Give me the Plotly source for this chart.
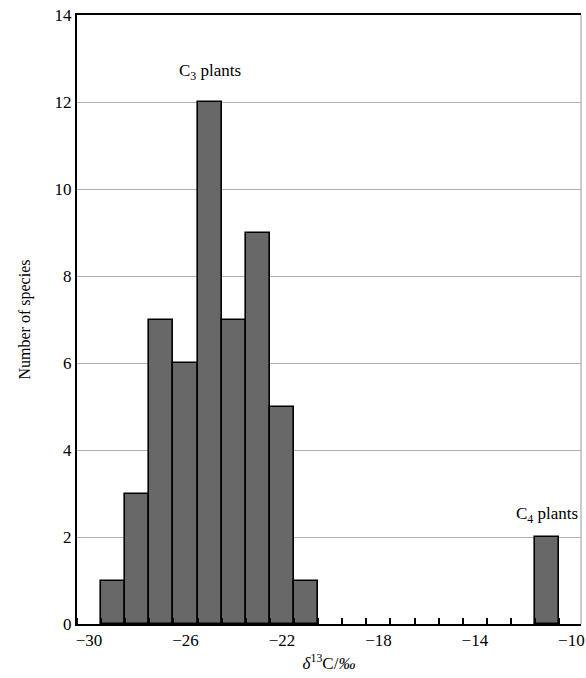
import plotly.graph_objects as go

# data
bin_centers = [-29, -28, -27, -26, -25, -24, -23, -22, -21, -11]
species_counts = [1, 3, 7, 6, 12, 7, 9, 5, 1, 2]
x_tick_vals = [-30, -26, -22, -18, -14, -10]
x_tick_text = ["\u221230", "\u221226", "\u221222", "\u221218", "\u221214", "\u221210"]
y_tick_vals = [0, 2, 4, 6, 8, 10, 12, 14]

FONT = "Liberation Serif, Times New Roman, serif"

fig = go.Figure()
fig.add_trace(go.Bar(
    x=bin_centers, y=species_counts, width=1.0,
    marker=dict(color="#686868", line=dict(color="black", width=1.6)),
    showlegend=False,
))

fig.update_layout(
    width=586, height=678,
    margin=dict(l=77, r=1, t=15, b=54),
    paper_bgcolor="white", plot_bgcolor="white",
    font=dict(family=FONT, size=17, color="black"),
    bargap=0,
    xaxis=dict(
        range=[-30.5, -9.6],
        tickvals=x_tick_vals, ticktext=x_tick_text,
        ticks="", showgrid=False, zeroline=False,
        ticklabeloverflow="allow",
        showline=True, linecolor="black", linewidth=2, mirror=True,
        tickfont=dict(family=FONT, size=17),
        minor=dict(tick0=-30.5, dtick=1, ticks="inside", ticklen=6,
                   tickcolor="black", tickwidth=2, showgrid=False),
        title=dict(text="<i>\u03b4</i><sup>13</sup>C/<i>\u2030</i>",
                   font=dict(family=FONT, size=17), standoff=8),
    ),
    yaxis=dict(
        range=[0, 14], tickvals=y_tick_vals,
        ticks="", showgrid=True, gridcolor="#b0b0b0", gridwidth=1.3,
        zeroline=False, showline=True, linecolor="black", linewidth=2,
        tickfont=dict(family=FONT, size=17),
        title=dict(text="Number of species", font=dict(family=FONT, size=16), standoff=20),
    ),
    annotations=[
        dict(x=-25, y=12.7, xref="x", yref="y", text="C<sub>3</sub> plants",
             showarrow=False, font=dict(family=FONT, size=17)),
        dict(x=-9.65, y=2.5, xref="x", yref="y", text="C<sub>4</sub> plants",
             showarrow=False, xanchor="right", font=dict(family=FONT, size=17)),
    ],
    shapes=[
        dict(type="line", xref="paper", yref="paper", x0=1, x1=1, y0=0, y1=1,
             line=dict(color="#b0b0b0", width=1.3)),
    ],
)

fig.write_html("out.html", config={"displayModeBar": False},
               post_script="document.body.style.margin='0';")
